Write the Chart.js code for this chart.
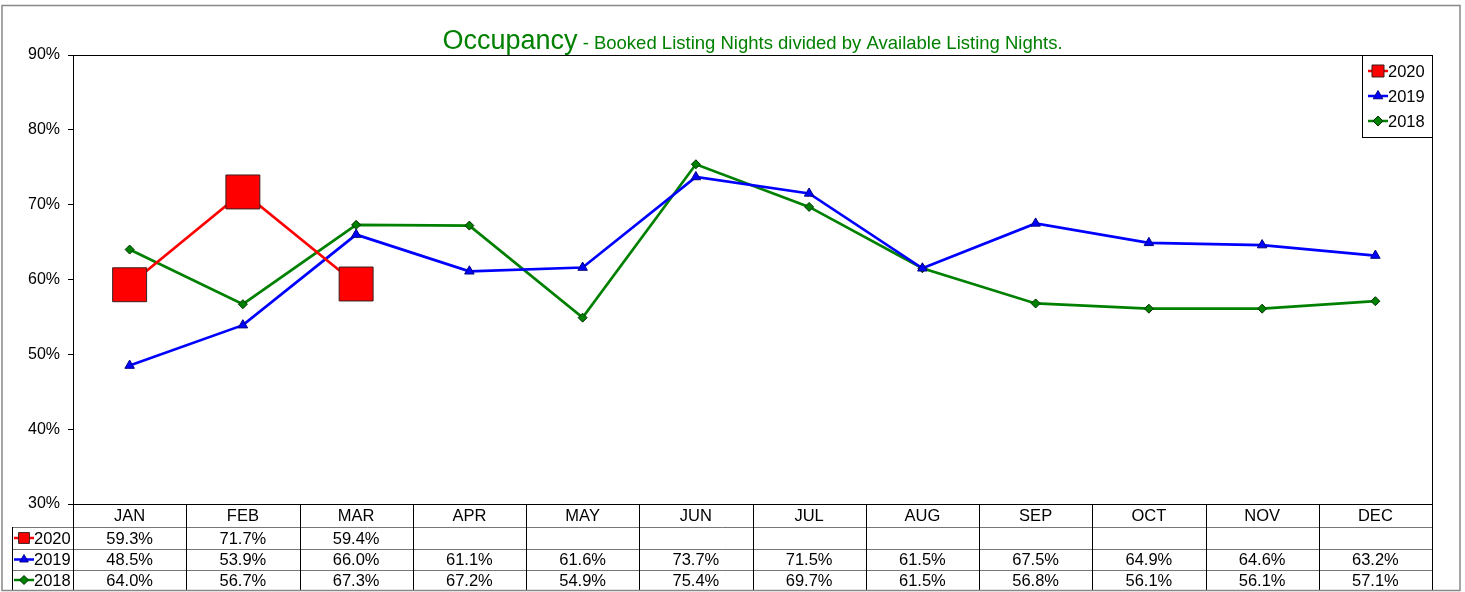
<!DOCTYPE html>
<html><head><meta charset="utf-8">
<script src="https://cdn.jsdelivr.net/npm/chart.js@4/dist/chart.umd.min.js"></script>
<style>html,body{margin:0;padding:0;background:#fff}#wrap{width:1465px;height:592px;position:relative}</style>
</head><body><div id="wrap"><canvas id="c" width="1465" height="592"></canvas></div>
<script>
const months = ['JAN','FEB','MAR','APR','MAY','JUN','JUL','AUG','SEP','OCT','NOV','DEC'];
const s2020 = [59.3, 71.7, 59.4, null, null, null, null, null, null, null, null, null];
const s2019 = [48.5, 53.9, 66.0, 61.1, 61.6, 73.7, 71.5, 61.5, 67.5, 64.9, 64.6, 63.2];
const s2018 = [64.0, 56.7, 67.3, 67.2, 54.9, 75.4, 69.7, 61.5, 56.8, 56.1, 56.1, 57.1];
const seriesNames = ['2020', '2019', '2018'];
const yMin = 30, yMax = 90, yStep = 10;
const titleMain = 'Occupancy';
const titleSub = ' - Booked Listing Nights divided by Available Listing Nights.';

const FONT = '"Liberation Sans", Arial, sans-serif';
const GREEN_T = '#008000';

const datasets = [
  {label: seriesNames[0], data: s2020, borderColor: '#ff0000', backgroundColor: '#ff0000',
   pointStyle: 'rect', pointRadius: 24, pointBorderColor: '#3a2020', pointBorderWidth: 1, legendRadius: 8.5},
  {label: seriesNames[1], data: s2019, borderColor: '#0000ff', backgroundColor: '#0000ff',
   pointStyle: 'triangle', pointRadius: 5.5, pointBorderColor: '#000080', pointBorderWidth: 1, legendRadius: 5.5},
  {label: seriesNames[2], data: s2018, borderColor: '#008000', backgroundColor: '#008000',
   pointStyle: 'rectRot', pointRadius: 4.5, pointBorderColor: '#003000', pointBorderWidth: 1, legendRadius: 5}
].map(d => Object.assign({borderWidth: 2.7, tension: 0, spanGaps: false, pointHoverRadius: d.pointRadius}, d));

function drawMarker(ctx, ds, x, y, r) {
  ctx.save();
  ctx.strokeStyle = ds.borderColor; ctx.lineWidth = 2.5;
  ctx.beginPath(); ctx.moveTo(x - 10, y); ctx.lineTo(x + 10, y); ctx.stroke();
  ctx.fillStyle = ds.backgroundColor; ctx.strokeStyle = ds.pointBorderColor; ctx.lineWidth = 1;
  Chart.helpers.drawPoint(ctx, {pointStyle: ds.pointStyle, radius: r, rotation: 0, borderWidth: 1}, x, y);
  ctx.restore();
}

const decor = {
  id: 'decor',
  afterDraw(chart) {
    const ctx = chart.ctx, a = chart.chartArea, xs = chart.scales.x;
    ctx.save();
    // plot border
    ctx.strokeStyle = '#000'; ctx.lineWidth = 1;
    ctx.strokeRect(Math.round(a.left) + 0.5, Math.round(a.top) + 0.5, Math.round(a.right - a.left), Math.round(a.bottom - a.top));
    // title
    ctx.fillStyle = GREEN_T; ctx.textBaseline = 'alphabetic';
    ctx.font = '27px ' + FONT; const w1 = ctx.measureText(titleMain).width;
    ctx.font = '18.5px ' + FONT; const w2 = ctx.measureText(titleSub).width;
    const cx = (a.left + a.right) / 2; let tx = cx - (w1 + w2) / 2;
    ctx.font = '27px ' + FONT; ctx.textAlign = 'left'; ctx.fillText(titleMain, tx, 49);
    ctx.font = '18.5px ' + FONT; ctx.fillText(titleSub, tx + w1, 49);
    // table
    const n = months.length;
    const colW = (a.right - a.left) / n;
    const rowsY = [a.bottom, a.bottom + 23, a.bottom + 45, a.bottom + 66, a.bottom + 86];
    const labelLeft = 12.5;
    ctx.lineWidth = 1;
    ctx.strokeStyle = '#777';
    for (let r = 1; r < rowsY.length; r++) {
      const y = Math.round(rowsY[r]) + 0.5;
      ctx.beginPath(); ctx.moveTo(labelLeft, y); ctx.lineTo(a.right, y); ctx.stroke();
    }
    ctx.strokeStyle = '#000';
    for (let i = 0; i <= n; i++) {
      const x = Math.round(xs.getPixelForValue(i) - colW / 2) + 0.5;
      ctx.beginPath(); ctx.moveTo(x, a.bottom); ctx.lineTo(x, rowsY[4] + 0.5); ctx.stroke();
    }
    ctx.beginPath(); ctx.moveTo(labelLeft, rowsY[1]); ctx.lineTo(labelLeft, rowsY[4] + 0.5); ctx.stroke();
    ctx.fillStyle = '#000'; ctx.font = '16.5px ' + FONT; ctx.textAlign = 'center'; ctx.textBaseline = 'middle';
    months.forEach((m, i) => ctx.fillText(m, xs.getPixelForValue(i), (rowsY[0] + rowsY[1]) / 2 + 1));
    chart.data.datasets.forEach((ds, r) => {
      const yc = (rowsY[r + 1] + rowsY[r + 2]) / 2 + 1;
      ds.data.forEach((v, i) => {
        if (v === null || v === undefined) return;
        ctx.fillText(v.toFixed(1) + '%', xs.getPixelForValue(i), yc);
      });
      drawMarker(ctx, ds, 24, yc - 1, ds.legendRadius * 0.9);
      ctx.fillStyle = '#000'; ctx.textAlign = 'left'; ctx.font = '16.5px ' + FONT;
      ctx.fillText(ds.label, 34, yc);
      ctx.textAlign = 'center';
    });
    // legend
    const lx = 1362, ly = a.top, lw = Math.round(a.right) - lx, lh = 82;
    ctx.fillStyle = '#fff'; ctx.fillRect(lx, ly, lw, lh);
    ctx.strokeStyle = '#000'; ctx.strokeRect(lx + 0.5, Math.round(ly) + 0.5, lw, lh);
    chart.data.datasets.forEach((ds, r) => {
      const y = ly + 16 + r * 25;
      drawMarker(ctx, ds, lx + 16, y, ds.legendRadius);
      ctx.fillStyle = '#000'; ctx.textAlign = 'left'; ctx.textBaseline = 'middle'; ctx.font = '16.5px ' + FONT;
      ctx.fillText(ds.label, lx + 26, y + 1);
    });
    ctx.strokeStyle = '#888'; ctx.lineWidth = 1.5;
    ctx.strokeRect(2, 5.5, 1458, 585);
    ctx.restore();
  }
};

new Chart(document.getElementById('c'), {
  type: 'line',
  data: {labels: months, datasets},
  options: {
    responsive: false, animation: false, devicePixelRatio: 1,
    layout: {padding: {left: 0, top: 55, right: 33, bottom: 88}},
    plugins: {legend: {display: false}, title: {display: false}, tooltip: {enabled: false}},
    scales: {
      x: {display: false, offset: true},
      y: {
        min: yMin, max: yMax,
        afterFit(s) { s.width = 73; },
        border: {display: true, color: '#000', width: 1},
        grid: {drawOnChartArea: false, drawTicks: true, tickLength: 5, color: '#000'},
        ticks: {stepSize: yStep, color: '#000', padding: 8, font: {family: FONT, size: 16},
          callback: v => v + '%'}
      }
    }
  },
  plugins: [decor]
});
</script></body></html>
